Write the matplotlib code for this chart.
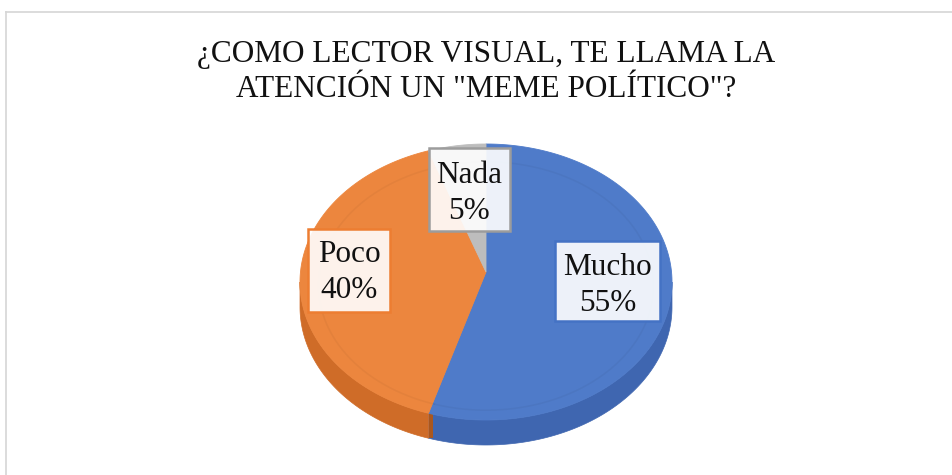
import numpy as np
import matplotlib
matplotlib.use("Agg")
import matplotlib.pyplot as plt
from matplotlib.patches import Polygon, Rectangle

# Survey answers
categories = ["Mucho", "Poco", "Nada"]
percentages = [55, 40, 5]
title_lines = ["¿COMO LECTOR VISUAL, TE LLAMA LA", "ATENCIÓN UN \"MEME POLÍTICO\"?"]

top_colors = ["#4F7BC9", "#EC863E", "#BDBDBD"]
side_colors = ["#3F66B0", "#CF6C28", "#9A9A9A"]
edge_colors = ["#4472C4", "#ED7D31", "#9C9C9C"]

W, H = 952, 475
fig = plt.figure(figsize=(W / 100, H / 100), dpi=100)
fig.patch.set_facecolor("white")
ax = fig.add_axes([0, 0, 1, 1])
ax.set_xlim(0, W)
ax.set_ylim(H, 0)
ax.axis("off")

# chart frame (top and left edges)
ax.plot([5, W], [11.5, 11.5], color="#D6D6D6", lw=1.2, solid_capstyle="butt")
ax.plot([5.5, 5.5], [11, H], color="#D6D6D6", lw=1.2, solid_capstyle="butt")

# pie geometry (pixel space)
cx, cy, rx, ry, depth = 486, 282, 186, 138, 25
apex = (486, 272)


def rim(theta, dy=0.0, s=1.0):
    return np.column_stack([cx + s * rx * np.sin(theta), cy - s * ry * np.cos(theta) + dy])


fractions = np.array(percentages, dtype=float) / sum(percentages)
bounds = np.concatenate([[0], np.cumsum(fractions)]) * 2 * np.pi

# side walls (front half only)
for i in range(len(categories)):
    a0, a1 = bounds[i], bounds[i + 1]
    lo, hi = max(a0, np.pi / 2), min(a1, 3 * np.pi / 2)
    if hi <= lo:
        continue
    t = np.linspace(lo, hi, 200)
    top = rim(t)
    bot = rim(t[::-1], dy=depth)
    ax.add_patch(Polygon(np.vstack([top, bot]), closed=True,
                         facecolor=side_colors[i], edgecolor=side_colors[i], lw=0.5, zorder=2))

# radial cut visible at the front boundary between Mucho and Poco
b = bounds[1]
p_top = rim(np.array([b]))[0]
ax.add_patch(Polygon([p_top, p_top + [0, depth], p_top + [4, depth], p_top + [4, 0]],
                     closed=True, facecolor="#A9571F", edgecolor="none", zorder=2.5))

# top faces
for i in range(len(categories)):
    t = np.linspace(bounds[i], bounds[i + 1], 300)
    pts = np.vstack([[apex], rim(t)])
    ax.add_patch(Polygon(pts, closed=True, facecolor=top_colors[i],
                         edgecolor=top_colors[i], lw=0.6, zorder=3))
    # faint bevel ring
    inner = rim(t, s=0.9)
    ax.plot(inner[:, 0], inner[:, 1] + 4, color="black", alpha=0.035, lw=1.2, zorder=3.5)

# title
serif = ["Liberation Serif", "DejaVu Serif"]
ax.text(486, 62, title_lines[0], ha="center", va="baseline", fontsize=22.5,
        family=serif, color="#111111")
ax.text(486, 97, title_lines[1], ha="center", va="baseline", fontsize=22.5,
        family=serif, color="#111111")

# data labels: box (x0, y0, x1, y1) and first baseline
label_boxes = [(555, 241, 660, 321), (308, 229, 390, 312), (429, 148, 510, 231)]
first_baselines = [275, 262, 183]
line_gap = 36
for i, name in enumerate(categories):
    x0, y0, x1, y1 = label_boxes[i]
    ax.add_patch(Rectangle((x0, y0), x1 - x0, y1 - y0, facecolor=(1, 1, 1, 0.9),
                           edgecolor=edge_colors[i], lw=1.8, zorder=5))
    xc = (x0 + x1) / 2
    yb = first_baselines[i]
    ax.text(xc, yb, name, ha="center", va="baseline", fontsize=22.5,
            family=serif, color="#111111", zorder=6)
    ax.text(xc, yb + line_gap, f"{percentages[i]}%", ha="center", va="baseline",
            fontsize=22.5, family=serif, color="#111111", zorder=6)

fig.savefig("out.png", dpi=100, facecolor="white")
